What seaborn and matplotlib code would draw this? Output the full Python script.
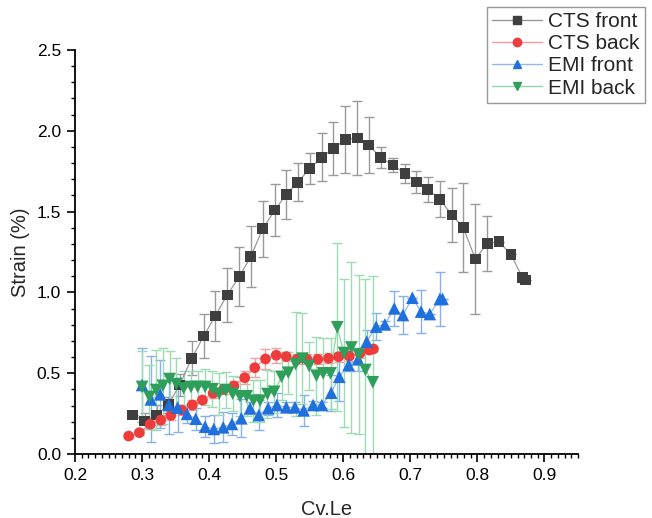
import numpy as np
import pandas as pd
import matplotlib
matplotlib.use("Agg")
import matplotlib.pyplot as plt
from matplotlib.lines import Line2D
from matplotlib.ticker import MultipleLocator
import seaborn as sns

# ---------------- data ----------------
cts_front_x = [0.286, 0.304, 0.322, 0.339, 0.356, 0.374, 0.392, 0.409, 0.427, 0.445,
               0.462, 0.480, 0.498, 0.515, 0.532, 0.550, 0.568, 0.585, 0.603, 0.621,
               0.638, 0.656, 0.674, 0.692, 0.709, 0.726, 0.744, 0.762, 0.779, 0.797,
               0.815, 0.832, 0.850, 0.867, 0.872]
cts_front_y = [0.241, 0.204, 0.241, 0.305, 0.427, 0.592, 0.730, 0.854, 0.984, 1.097,
               1.221, 1.394, 1.510, 1.607, 1.681, 1.766, 1.836, 1.889, 1.947, 1.955,
               1.912, 1.834, 1.788, 1.737, 1.683, 1.638, 1.576, 1.479, 1.400, 1.207,
               1.304, 1.314, 1.236, 1.093, 1.077]
cts_front_err = [0.0, 0.05, 0.062, 0.05, 0.07, 0.105, 0.136, 0.154, 0.167, 0.181,
                 0.189, 0.172, 0.162, 0.150, 0.118, 0.096, 0.149, 0.165, 0.208, 0.230,
                 0.176, 0.067, 0.041, 0.057, 0.069, 0.076, 0.112, 0.169, 0.274, 0.338,
                 0.170, 0.0, 0.0, 0.0, 0.0]

cts_back_x = [0.280, 0.296, 0.312, 0.328, 0.343, 0.359, 0.375, 0.390, 0.406, 0.422,
              0.437, 0.453, 0.468, 0.484, 0.500, 0.515, 0.531, 0.546, 0.562, 0.578,
              0.593, 0.609, 0.625, 0.639, 0.645]
cts_back_y = [0.111, 0.132, 0.184, 0.210, 0.239, 0.272, 0.303, 0.334, 0.376, 0.400,
              0.421, 0.472, 0.534, 0.588, 0.611, 0.603, 0.586, 0.586, 0.586, 0.592,
              0.602, 0.606, 0.623, 0.643, 0.650]
cts_back_err = [0.01, 0.015, 0.02, 0.03, 0.03, 0.03, 0.03, 0.02, 0.03, 0.03,
                0.03, 0.04, 0.06, 0.06, 0.045, 0.03, 0.03, 0.03, 0.03, 0.03,
                0.03, 0.03, 0.03, 0.02, 0.01]

emi_front_x = [0.300, 0.313, 0.327, 0.340, 0.353, 0.367, 0.380, 0.394, 0.407, 0.421,
               0.434, 0.448, 0.461, 0.474, 0.488, 0.501, 0.515, 0.528, 0.541, 0.555,
               0.568, 0.582, 0.594, 0.608, 0.622, 0.635, 0.649, 0.662, 0.676, 0.689,
               0.703, 0.716, 0.729, 0.744, 0.748]
emi_front_y = [0.427, 0.338, 0.369, 0.303, 0.287, 0.248, 0.218, 0.169, 0.155, 0.165,
               0.186, 0.221, 0.283, 0.241, 0.283, 0.303, 0.289, 0.289, 0.270, 0.303,
               0.303, 0.379, 0.478, 0.551, 0.586, 0.695, 0.788, 0.802, 0.901, 0.860,
               0.967, 0.881, 0.866, 0.959, 0.960]
emi_front_err = [0.227, 0.266, 0.21, 0.18, 0.15, 0.057, 0.067, 0.066, 0.088, 0.092,
                 0.07, 0.118, 0.036, 0.095, 0.04, 0.072, 0.03, 0.03, 0.095, 0.025,
                 0.02, 0.11, 0.15, 0.04, 0.07, 0.072, 0.085, 0.02, 0.108, 0.117,
                 0.0, 0.135, 0.0, 0.17, 0.0]

emi_back_x = [0.300, 0.311, 0.321, 0.331, 0.341, 0.351, 0.362, 0.373, 0.383, 0.394,
              0.405, 0.415, 0.425, 0.435, 0.446, 0.456, 0.466, 0.476, 0.487, 0.497,
              0.508, 0.518, 0.529, 0.539, 0.549, 0.560, 0.570, 0.581, 0.591, 0.601,
              0.612, 0.623, 0.633, 0.644]
emi_back_y = [0.415, 0.353, 0.396, 0.422, 0.464, 0.433, 0.406, 0.415, 0.415, 0.415,
              0.401, 0.373, 0.396, 0.373, 0.357, 0.357, 0.330, 0.330, 0.371, 0.385,
              0.477, 0.503, 0.556, 0.590, 0.545, 0.484, 0.499, 0.499, 0.784, 0.625,
              0.659, 0.615, 0.520, 0.444]
emi_back_err = [0.22, 0.20, 0.25, 0.235, 0.175, 0.16, 0.11, 0.10, 0.10, 0.11,
                0.11, 0.13, 0.11, 0.11, 0.12, 0.12, 0.13, 0.13, 0.15, 0.13,
                0.14, 0.13, 0.32, 0.28, 0.15, 0.24, 0.22, 0.22, 0.52, 0.46,
                0.53, 0.49, 0.56, 0.66]

series_names = ["CTS front", "CTS back", "EMI front", "EMI back"]
x_label = "Cv.Le"
y_label = "Strain (%)"

# ---------------- styles ----------------
marker_colors = ["#3f3f3f", "#ee3b3b", "#1f6fdc", "#2e9f5a"]
line_colors = ["#9a9a9a", "#f59a9a", "#8fb8f0", "#8fd6a8"]
err_colors = ["#9a9a9a", "#f5a0a0", "#86b0ee", "#9bdcb2"]
markers = ["s", "o", "^", "v"]
msizes = [5.6, 5.6, 6.6, 6.6]

xs = [cts_front_x, cts_back_x, emi_front_x, emi_back_x]
ys = [cts_front_y, cts_back_y, emi_front_y, emi_back_y]
es = [cts_front_err, cts_back_err, emi_front_err, emi_back_err]

frames = []
for name, x, y, e in zip(series_names, xs, ys, es):
    frames.append(pd.DataFrame({"x": x, "y": y, "err": e, "series": name}))
df = pd.concat(frames, ignore_index=True)

sns.set_style("ticks")
plt.rcParams["font.family"] = ["Liberation Sans", "DejaVu Sans"]

fig = plt.figure(figsize=(6.52, 5.18), dpi=100)
ax = fig.add_axes([75 / 652, 1 - 454 / 518, (578 - 75) / 652, (454 - 50) / 518])

# error bars first (drawn underneath)
for i, name in enumerate(series_names):
    d = df[df["series"] == name]
    ax.errorbar(d["x"], d["y"], yerr=d["err"], fmt="none", ecolor=err_colors[i],
                elinewidth=1.0, capsize=3.5, capthick=1.0, zorder=1 + i * 0.1)

# lines + markers via seaborn
palette_line = dict(zip(series_names, line_colors))
sns.lineplot(data=df, x="x", y="y", hue="series", palette=palette_line,
             sort=False, estimator=None, linewidth=0.9, legend=False, ax=ax, zorder=3)
for i, name in enumerate(series_names):
    d = df[df["series"] == name]
    sns.scatterplot(x=d["x"], y=d["y"], marker=markers[i], color=marker_colors[i],
                    s=(msizes[i] * 1.389) ** 2 / 1.389 ** 2 * 1.9, edgecolor="none",
                    linewidth=0, ax=ax, legend=False, zorder=4 + i * 0.1)

ax.set_xlim(0.2, 0.95)
ax.set_ylim(0.0, 2.5)
ax.xaxis.set_major_locator(MultipleLocator(0.1))
ax.xaxis.set_minor_locator(MultipleLocator(0.01))
ax.yaxis.set_major_locator(MultipleLocator(0.5))
ax.yaxis.set_minor_locator(MultipleLocator(0.1))
ax.set_xticks(np.arange(0.2, 0.91, 0.1))
ax.set_xticklabels(["0.2", "0.3", "0.4", "0.5", "0.6", "0.7", "0.8", "0.9"])
ax.set_yticks(np.arange(0.0, 2.51, 0.5))
ax.set_yticklabels(["0.0", "0.5", "1.0", "1.5", "2.0", "2.5"])
ax.tick_params(which="major", direction="out", length=6, width=1.2, labelsize=12.5,
               colors="#000000", pad=4)
ax.tick_params(which="minor", direction="out", length=3.2, width=1.0, colors="#000000")
for s in ["top", "right"]:
    ax.spines[s].set_visible(False)
for s in ["left", "bottom"]:
    ax.spines[s].set_linewidth(1.3)
    ax.spines[s].set_color("#000000")

ax.set_xlabel(x_label, fontsize=14.5, labelpad=12)
ax.set_ylabel(y_label, fontsize=14.5, labelpad=5)

handles = [Line2D([0], [0], color=line_colors[i], lw=1.0, marker=markers[i],
                  markerfacecolor=marker_colors[i], markeredgecolor=marker_colors[i],
                  markersize=6) for i in range(4)]
leg = fig.legend(handles, series_names, loc="upper right",
                 bbox_to_anchor=(645 / 652, 1 - 7 / 518), fontsize=15,
                 frameon=True, fancybox=False, handlelength=2.4, handletextpad=0.3,
                 borderpad=0.25, labelspacing=0.15, borderaxespad=0.0)
leg.get_frame().set_edgecolor("#7f7f7f")
leg.get_frame().set_linewidth(1.0)

fig.savefig("out.png", dpi=100)
